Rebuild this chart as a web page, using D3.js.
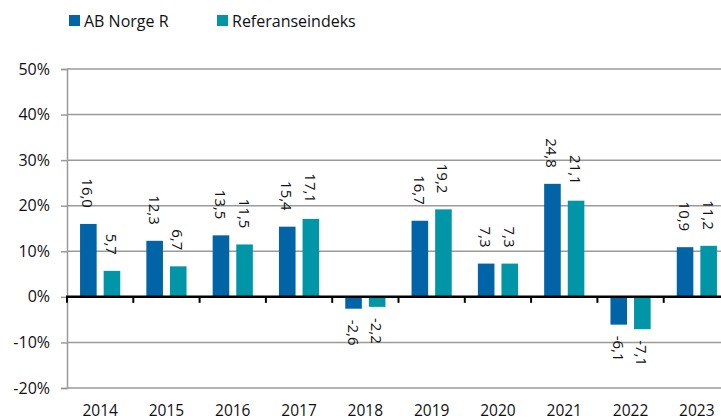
<!DOCTYPE html>
<html><head><meta charset="utf-8">
<script src="https://cdn.jsdelivr.net/npm/d3@7"></script>
<style>body{margin:0;background:#fff}svg{display:block}text{font-family:"Open Sans","Noto Sans",sans-serif;fill:#111}</style>
</head><body><svg id="c" width="721" height="420"></svg>
<script>
const years = ["2014","2015","2016","2017","2018","2019","2020","2021","2022","2023"];
const seriesNames = ["AB Norge R","Referanseindeks"];
const abNorge = [16.0,12.3,13.5,15.4,-2.6,16.7,7.3,24.8,-6.1,10.9];
const referanse = [5.7,6.7,11.5,17.1,-2.2,19.2,7.3,21.1,-7.1,11.2];
const yTicks = [-20,-10,0,10,20,30,40,50];
const colors = ["#0064a7","#0096a8"];

const svg = d3.select("#c");
const mLeft = 67, mTop = 69, mBottom = 388;
const x0 = d3.scaleBand().domain(years).range([mLeft, mLeft + 663]).padding(0);
const x1 = d3.scaleBand().domain(seriesNames).range([0, x0.bandwidth()]).paddingInner(0.297).paddingOuter(0.553);
const y = d3.scaleLinear().domain([-20,50]).range([mBottom, mTop]);
const fs = "16px";

// gridlines
svg.append("g").selectAll("line").data(yTicks.filter(d=>d!==0)).join("line")
  .attr("x1", mLeft).attr("x2", 721).attr("y1", d=>y(d)).attr("y2", d=>y(d))
  .attr("stroke","#9a9a9a").attr("stroke-width",1.5);

// left axis
const ya = svg.append("g").attr("transform",`translate(${mLeft},0)`)
  .call(d3.axisLeft(y).tickValues(yTicks).tickSize(6).tickFormat(d=>d+"%"));
ya.select(".domain").attr("stroke","#9a9a9a").attr("stroke-width",1.5);
ya.selectAll(".tick line").attr("stroke","#9a9a9a").attr("stroke-width",1.5);
ya.selectAll(".tick text").attr("x",-17).style("font-size",fs).attr("fill","#111")
  .style("font-family",'"Open Sans","Noto Sans",sans-serif');

const data = years.map((yr,i)=>({yr, vals:[abNorge[i], referanse[i]]}));

// bars
const g = svg.append("g").selectAll("g").data(data).join("g")
  .attr("transform", d=>`translate(${x0(d.yr)},0)`);
g.selectAll("rect").data(d=>d.vals.map((v,j)=>({v, s:seriesNames[j], j}))).join("rect")
  .attr("x", d=>x1(d.s)).attr("width", x1.bandwidth())
  .attr("y", d=>y(Math.max(0,d.v))).attr("height", d=>Math.abs(y(d.v)-y(0)))
  .attr("fill", d=>colors[d.j]);

// value labels
g.selectAll("text").data(d=>d.vals.map((v,j)=>({v, s:seriesNames[j], j}))).join("text")
  .attr("transform", d=>{
    const cx = x1(d.s) + x1.bandwidth()/2;
    const yy = d.v >= 0 ? y(d.v) - 16 : y(d.v) + 11;
    return `translate(${cx},${yy}) rotate(90)`;
  })
  .attr("text-anchor", d=>d.v>=0 ? "end" : "start")
  .attr("dominant-baseline","central")
  .style("font-size","15px")
  .text(d=>d3.format(".1f")(d.v).replace(".",",").replace("−","-"));

// x axis (zero line)
const xa = svg.append("g").attr("transform",`translate(0,${y(0)})`);
xa.append("line").attr("x1",mLeft-1).attr("x2",721).attr("stroke","#000").attr("stroke-width",2.5);
xa.selectAll("line.tk").data(years).join("line").attr("class","tk")
  .attr("x1", d=>x0(d)).attr("x2", d=>x0(d)).attr("y1",0).attr("y2",6)
  .attr("stroke","#000").attr("stroke-width",2);

// year labels
svg.append("g").selectAll("text").data(years).join("text")
  .attr("x", d=>x0(d)+x0.bandwidth()/2).attr("y", 409.5)
  .attr("text-anchor","middle").attr("dominant-baseline","central")
  .style("font-size","15.5px").text(d=>d);

// legend
const leg = svg.append("g");
const legX = [69, 217];
seriesNames.forEach((n,i)=>{
  leg.append("rect").attr("x",legX[i]).attr("y",15).attr("width",11).attr("height",11).attr("fill",colors[i]);
  leg.append("text").attr("x",legX[i]+15).attr("y",20.5).attr("dominant-baseline","central")
    .style("font-size","16px").text(n);
});
</script></body></html>
